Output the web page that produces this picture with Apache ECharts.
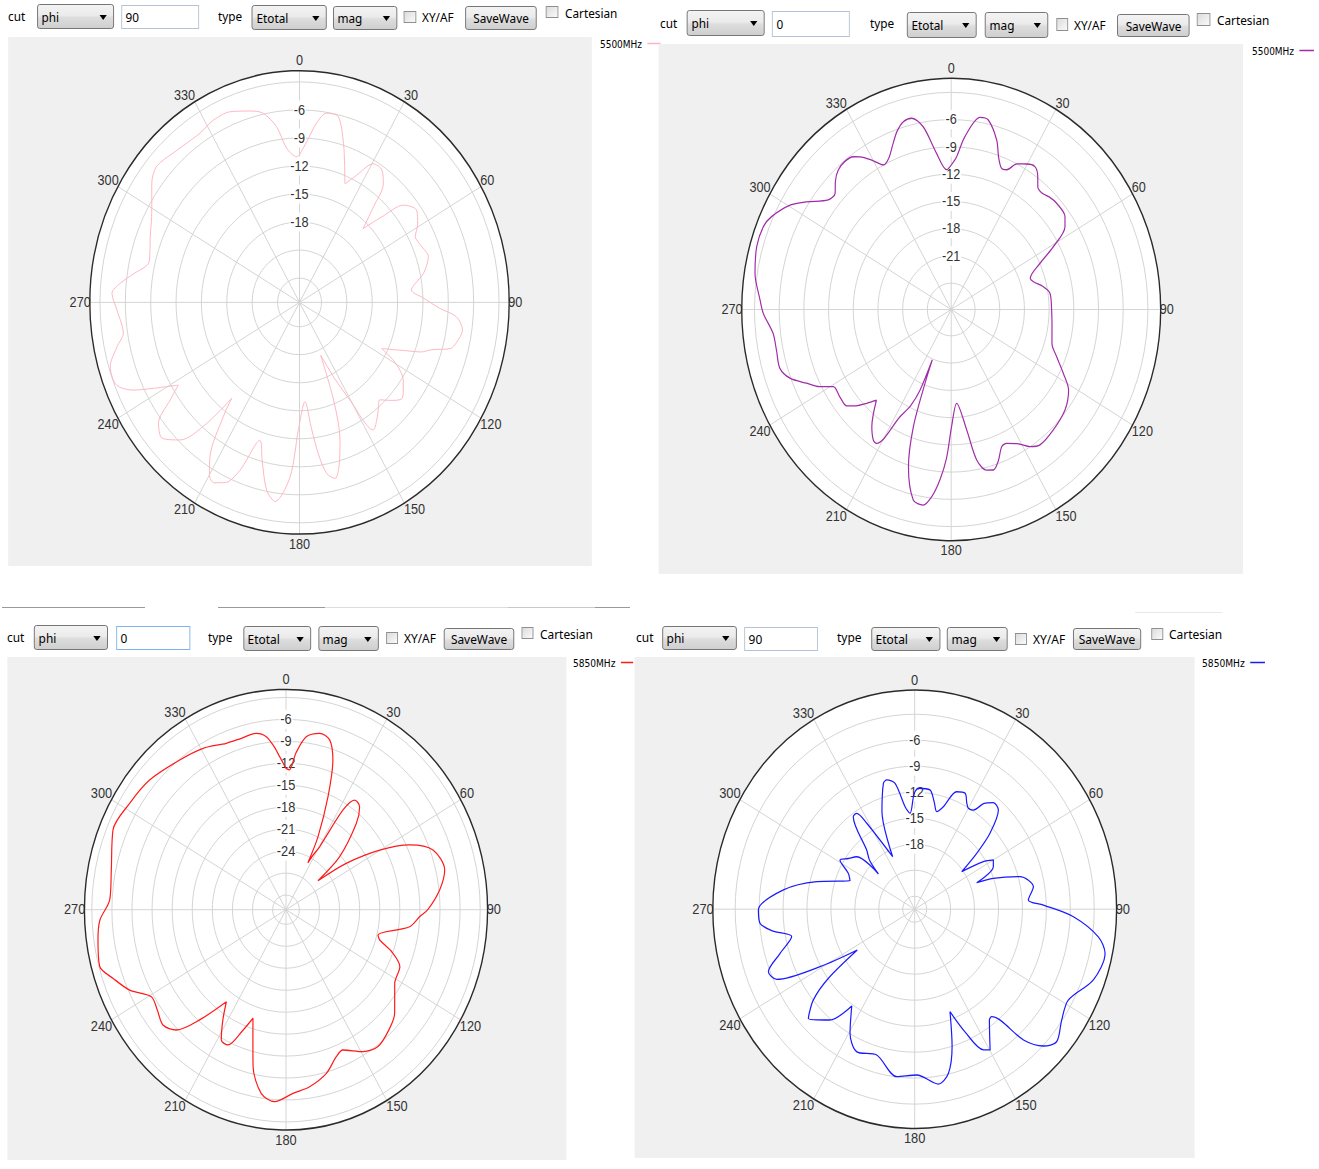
<!DOCTYPE html>
<html><head><meta charset="utf-8">
<script src="https://cdn.jsdelivr.net/npm/echarts@6/dist/echarts.min.js"></script>
<style>
html,body{margin:0;padding:0;background:#fff;width:1319px;height:1169px;overflow:hidden;font-family:'Noto Sans','DejaVu Sans',sans-serif;}
.panel{position:absolute;transform-origin:0 0;}
.gray{position:absolute;background:#f0f0f0;}
.chart{position:absolute;left:0;top:0;}
.lbl{position:absolute;font-size:13px;color:#000;line-height:16px;height:16px;white-space:nowrap;}
.sel,.btn{position:absolute;box-sizing:border-box;border:1px solid #707070;border-radius:3px;background:linear-gradient(#f3f3f3,#ebebeb 45%,#dddddd 55%,#cfcfcf);font-size:13px;color:#000;white-space:nowrap;}
.sel span{position:absolute;left:4px;top:50%;transform:translateY(-52%);line-height:16px;}
.sel i{position:absolute;right:7px;top:50%;margin-top:-2px;width:0;height:0;border-left:4px solid transparent;border-right:4px solid transparent;border-top:5px solid #000;}
.btn span{position:absolute;left:0;right:0;text-align:center;top:50%;transform:translateY(-50%);line-height:16px;}
.inp{position:absolute;box-sizing:border-box;border:1px solid #b5c2d3;background:#fff;font-size:13px;color:#000;}
.inp span{position:absolute;left:4px;top:50%;transform:translateY(-50%);line-height:16px;}
.cb{position:absolute;box-sizing:border-box;border:1px solid #8e8f8f;background:linear-gradient(135deg,#dcdcdc,#fafafa);}
.sep{position:absolute;height:1px;}
</style></head>
<body>
<div class="sep" style="left:2px;top:607px;width:143px;background:#9a9a9a"></div>
<div class="sep" style="left:218px;top:607px;width:107px;background:#9a9a9a"></div>
<div class="sep" style="left:325px;top:607px;width:183px;background:#dcdcdc"></div>
<div class="sep" style="left:508px;top:607px;width:87px;background:#c8c8c8"></div>
<div class="sep" style="left:595px;top:607px;width:35px;background:#9a9a9a"></div>
<div class="sep" style="left:1135px;top:612px;width:87px;background:#e8e8e8"></div>
<script>
// ---------------- DATA ----------------
const angleTickValues = [0,30,60,90,120,150,180,210,240,270,300,330];
const ctlCut = 'cut', ctlCutField = 'phi', ctlType = 'type', ctlEtotal = 'Etotal', ctlMag = 'mag';
const ctlXY = 'XY/AF', ctlSave = 'SaveWave', ctlCart = 'Cartesian';
const cutValues = ['90', '0', '0', '90'];
const seriesNames = ['5500MHz', '5500MHz', '5850MHz', '5850MHz'];

const p1Rings = [-24,-21,-18,-15,-12,-9,-6,-3];
const p1Labels = [-18,-15,-12,-9,-6];
const p1Angles = [0,3,6,9,13,17,20,23,26.4,30.4,34.5,38,40.5,43.6,47,49.7,54.5,59,62.8,67,72.2,78,84.3,88,92.2,94.7,98.7,102,105.5,108,110.3,112.2,115.2,116.9,119,121.4,124,127.4,130.4,134,137.7,141,144,147.4,150.3,153,156.1,159,162,165,167.4,170,172,174,176.5,180.6,183.4,187.7,190.9,194.5,197.6,201.4,204.5,207.7,210,212.7,216.4,218,220.3,223.8,228.2,232.2,235.7,238.3,242,244.5,247.9,253,257.6,261,267.8,272.5,275.5,279,283.1,287,291.7,297.7,302,306,310.7,318.3,327,332.4,338,344.1,348,351.8,354.7,358.8,360];
const p1Values = [-10.8,-9.3,-7.3,-6.1,-6.2,-8.8,-11.0,-12.8,-11.4,-9.4,-9.4,-10.5,-13.1,-15.7,-13.0,-10.5,-9.6,-10.3,-11.2,-11.0,-10.6,-11.6,-13.3,-12.0,-10.0,-8.0,-7.1,-7.4,-8.1,-10.2,-11.3,-12.9,-14.8,-15.7,-14.0,-12.7,-11.8,-11.15,-10.7,-11.5,-12.5,-11.8,-11.05,-10.4,-14.6,-17.5,-20.4,-15.2,-11.1,-8.5,-7.3,-8.0,-10.0,-13.0,-15.95,-12.9,-7.9,-5.1,-6.1,-9.0,-11.1,-7.3,-5.4,-4.8,-5.3,-7.0,-11.4,-13.6,-9.6,-6.2,-4.8,-5.5,-8.1,-9.75,-7.0,-4.8,-3.2,-3.2,-4.5,-5.5,-5.0,-4.4,-5.3,-6.8,-8.25,-8.1,-7.6,-6.85,-6.0,-5.0,-4.3,-4.8,-5.0,-4.6,-4.6,-5.3,-5.9,-7.6,-10.0,-11.0,-10.8];

const p2Rings = [-24,-21,-18,-15,-12,-9,-6,-3];
const p2Labels = [-21,-18,-15,-12,-9,-6];
const p2Angles = [0,2.2,5,9.4,12.2,16.5,19,21.5,23.7,26.5,29.8,32.9,35.5,38,40.7,44,47.6,53.5,56.6,60.9,64.8,70.3,73,77,81.5,90.3,99,107,112.1,117.3,121.9,128.7,136.9,144.1,147.6,151,155.4,157.9,161,163.8,166.3,169.4,171.9,176.3,179.8,182,184.2,186.5,189,192.4,196.7,199.6,201.4,202.5,203.1,205,207.8,211.6,213.4,216.8,222.3,224.8,227.5,230.1,234.6,239.3,242,245.2,248.9,252.7,258,263.1,268.9,272.6,279.5,286.3,291.8,295.1,300.4,304,308.9,312.2,315,318.2,321.5,324.7,326.6,330,332.6,335.5,338.9,341.5,344.3,347.2,350.4,354.1,357.9,360];
const p2Values = [-11.0,-10.1,-7.8,-5.46,-5.56,-7.44,-9.2,-10.2,-10.1,-9.0,-8.44,-8.17,-8.8,-9.8,-10.0,-9.7,-9.55,-9.7,-10.34,-12.7,-15.0,-16.7,-16.45,-15.5,-14.77,-14.7,-14.5,-14.1,-13.07,-11.56,-10.1,-9.19,-8.74,-8.5,-9.02,-10.0,-10.7,-10.6,-9.3,-8.5,-8.7,-10.05,-13.5,-16.55,-14.0,-10.5,-8.08,-6.2,-5.1,-5.43,-8.83,-13.2,-18.17,-20.9,-17.27,-15.2,-13.56,-9.6,-9.7,-10.8,-13.4,-12.35,-11.2,-10.35,-10.3,-10.25,-8.8,-7.55,-5.9,-5.1,-5.2,-5.1,-4.07,-3.65,-2.73,-2.28,-2.32,-2.8,-4.2,-5.7,-7.7,-7.86,-7.0,-6.31,-6.1,-6.3,-6.77,-8.0,-8.98,-8.6,-7.3,-6.2,-5.42,-5.31,-6.5,-9.62,-11.5,-11.0];

const p3Rings = [-30,-27,-24,-21,-18,-15,-12,-9,-6,-3];
const p3Labels = [-24,-21,-18,-15,-12,-9,-6];
const p3Angles = [0,1.5,4,7.3,11.8,15.7,18.9,22.1,25.6,27,28.5,30.3,32,34.4,38,41.7,47.9,50.3,54.8,59.8,64.4,69.6,77.1,83.3,89.9,92.7,97.2,104.1,106.5,110,114.6,121.8,131.1,137,143.7,149.3,156.1,159.5,164.9,171.7,177.6,183.7,188.4,192.9,195.5,198.4,201.5,205.1,208.5,212,215.3,220.6,224.9,229.4,234.5,239.4,244.8,250,254.4,261.6,267.1,272.9,281.7,292.9,301.9,311,322.2,330.7,338.6,344.1,349.6,352.9,355.5,357.4,360];
const p3Values = [-12.7,-12.9,-10.5,-8.17,-7.38,-7.9,-10.39,-15.33,-20.93,-24.8,-23.5,-22.0,-15.93,-13.84,-14.14,-16.2,-21.2,-25.8,-21.0,-15.8,-11.5,-8.58,-7.69,-8.9,-10.8,-12.0,-13.4,-17.83,-17.4,-15.2,-13.3,-12.9,-10.47,-9.5,-8.8,-9.44,-11.03,-10.56,-8.84,-7.56,-6.89,-5.71,-6.64,-9.99,-13.5,-16.37,-14.2,-11.59,-11.75,-14.2,-16.59,-12.16,-8.8,-7.8,-8.4,-8.64,-6.2,-4.54,-3.12,-3.62,-4.18,-5.64,-5.36,-3.96,-4.5,-5.0,-6.11,-6.71,-7.58,-7.65,-7.5,-8.18,-9.7,-11.07,-12.7];

const p4Rings = [-24,-21,-18,-15,-12,-9,-6,-3];
const p4Labels = [-18,-15,-12,-9,-6];
const p4Angles = [0,1.9,7.9,11,13.8,16.9,21.2,25.3,28,30,32.7,35.5,38.7,42.5,47.1,50.3,53.7,57.5,60,63.5,68.5,70.1,74.1,80.1,85.7,88.3,92.5,97.9,102.1,110,118.6,124.8,130.7,134.4,137.9,142.1,143.8,149.8,152,156,159.5,163.5,167.4,171.6,179.2,186.6,195.8,203.9,209.5,215.2,219.7,226.6,230.5,233.6,236.8,240.8,244.9,248.5,253,258.4,262,265.2,269.7,277.7,284.5,292.1,296.5,301.2,305,309.8,311.8,315,318.6,324.2,326.7,328.8,335.5,340,344.9,346.8,350.4,354.2,357,359.3,360];
const p4Values = [-12.0,-11.53,-11.6,-12.8,-13.91,-13.14,-10.96,-10.7,-11.6,-12.05,-11.9,-10.5,-9.74,-9.98,-12.62,-15.4,-18.19,-15.3,-14.12,-14.49,-17.15,-15.02,-11.78,-10.4,-11.22,-9.36,-5.59,-2.27,-1.1,-1.67,-3.58,-3.07,-2.04,-2.93,-5.16,-9.78,-9.65,-6.71,-7.11,-10.0,-12.87,-9.0,-6.1,-5.1,-6.36,-6.04,-8.01,-7.52,-9.04,-11.82,-8.88,-7.16,-9.04,-12.07,-16.9,-11.9,-6.41,-5.79,-7.8,-9.76,-7.5,-6.05,-5.91,-8.9,-12.82,-16.75,-16.2,-14.55,-15.3,-16.04,-19.4,-17.5,-16.4,-12.34,-12.26,-13.9,-18.84,-13.5,-10.45,-10.18,-10.76,-13.61,-14.42,-12.5,-12.0];

// ---------------- LAYOUT ----------------
const panels = [
  {L:0, T:0, s:0.905, W:730, H:575, gray:[8,37,592,566], center:[299.5,302.4], R:231.7, min:-26.6, max:-1.8,
   legend:[600,38], color:'#ffb3c0', lw:1, angles:p1Angles, values:p1Values, rings:p1Rings, labels:p1Labels,
   ctl:{cut:[8,16], sel:[37,4,77,25], inp:[121,5,78,24], type:[218,16], selE:[252,5,75,25], selM:[333,6,64,24], cb1:[404,11,12,12], xy:[422,17], btn:[465,6,72,24], cb2:[546,6,12,12], cart:[565,13]}},
  {L:655, T:0, s:0.906, W:728, H:580, gray:[659,44,1243,574], center:[951.2,309.5], R:231.2, min:-26.9, max:-1.45,
   legend:[1252,45], color:'#a02ca8', lw:1.3, angles:p2Angles, values:p2Values, rings:p2Rings, labels:p2Labels,
   ctl:{cut:[660,23], sel:[687,10,78,26], inp:[772,11,78,26], type:[870,23], selE:[907,12,70,26], selM:[985,12,63,26], cb1:[1056,18,12,13], xy:[1074,25], btn:[1117,14,73,23], cb2:[1197,13,13,13], cart:[1217,20]}},
  {L:0, T:612, s:0.915, W:692, H:557, gray:[7,657,566,1160], center:[286,909.7], R:220.3, min:-32, max:-1.9,
   legend:[573,657], color:'#ff1a1a', lw:1.3, angles:p3Angles, values:p3Values, rings:p3Rings, labels:p3Labels,
   ctl:{cut:[7,637], sel:[34,625,74,25], inp:[116,626,74,24], type:[208,637], selE:[243,626,68,25], selM:[318,626,61,25], cb1:[386,632,12,12], xy:[404,638], btn:[444,628,70,22], cb2:[522,627,11,12], cart:[540,634]}, focus:true},
  {L:630, T:612, s:0.921, W:690, H:557, gray:[635,657,1195,1158], center:[914.7,909.2], R:219.2, min:-25.5, max:-0.2,
   legend:[1202,657], color:'#1a1aff', lw:1.3, angles:p4Angles, values:p4Values, rings:p4Rings, labels:p4Labels,
   ctl:{cut:[636,637], sel:[662,626,75,24], inp:[744,627,74,24], type:[837,637], selE:[871,627,69,24], selM:[947,627,61,24], cb1:[1015,633,12,12], xy:[1033,639], btn:[1073,628,68,22], cb2:[1151,628,12,12], cart:[1169,634]}}
];

function el(parent, cls, p, xr, yr, wr, hr) {
  const d = document.createElement('div');
  d.className = cls;
  d.style.left = ((xr - p.L) / p.s) + 'px';
  d.style.top = (yr - p.T) + 'px';
  if (wr != null) d.style.width = (wr / p.s) + 'px';
  if (hr != null) d.style.height = hr + 'px';
  parent.appendChild(d);
  return d;
}
function label(parent, p, pos, text) {
  const d = el(parent, 'lbl', p, pos[0], pos[1] - 8);
  d.textContent = text;
}
function select(parent, p, r, text) {
  const d = el(parent, 'sel', p, r[0], r[1], r[2], r[3]);
  const sp = document.createElement('span'); sp.textContent = text; d.appendChild(sp);
  d.appendChild(document.createElement('i'));
}
function angleLabel(v) {
  if (angleTickValues.indexOf(v) < 0) return '';
  if (v === 0) return '{t|' + v + '}';
  if (v === 180) return '{b|' + v + '}';
  return '{n|' + v + '}';
}

panels.forEach((p, idx) => {
  const pd = document.createElement('div');
  pd.className = 'panel';
  pd.style.left = p.L + 'px'; pd.style.top = p.T + 'px';
  pd.style.width = p.W + 'px'; pd.style.height = p.H + 'px';
  pd.style.transform = 'scaleX(' + p.s + ')';
  document.body.appendChild(pd);

  el(pd, 'gray', p, p.gray[0], p.gray[1], p.gray[2] - p.gray[0], p.gray[3] - p.gray[1]);

  const c = p.ctl;
  label(pd, p, c.cut, ctlCut);
  select(pd, p, c.sel, ctlCutField);
  const inp = el(pd, 'inp', p, c.inp[0], c.inp[1], c.inp[2], c.inp[3]);
  if (p.focus) inp.style.borderColor = '#7eb4ea';
  const isp = document.createElement('span'); isp.textContent = cutValues[idx]; inp.appendChild(isp);
  label(pd, p, c.type, ctlType);
  select(pd, p, c.selE, ctlEtotal);
  select(pd, p, c.selM, ctlMag);
  el(pd, 'cb', p, c.cb1[0], c.cb1[1], c.cb1[2], c.cb1[3]);
  label(pd, p, c.xy, ctlXY);
  const b = el(pd, 'btn', p, c.btn[0], c.btn[1], c.btn[2], c.btn[3]);
  const bsp = document.createElement('span'); bsp.textContent = ctlSave; b.appendChild(bsp);
  el(pd, 'cb', p, c.cb2[0], c.cb2[1], c.cb2[2], c.cb2[3]);
  label(pd, p, c.cart, ctlCart);

  const cd = document.createElement('div');
  cd.className = 'chart';
  cd.style.width = p.W + 'px'; cd.style.height = p.H + 'px';
  pd.appendChild(cd);
  const chart = echarts.init(cd, null, {renderer: 'svg'});
  const name = seriesNames[idx];
  const data = p.angles.map((a, i) => [p.values[i], a]);
  const cx = (p.center[0] - p.L) / p.s, cy = p.center[1] - p.T;
  const lab = {fontSize: 14, color: '#333', fontFamily: "'Liberation Sans', Arial, sans-serif"};
  chart.setOption({
    animation: false,
    backgroundColor: 'transparent',
    textStyle: {fontFamily: "'Liberation Sans', Arial, sans-serif"},
    graphic: [{type: 'circle', silent: true, z: -10, shape: {cx: cx, cy: cy, r: p.R}, style: {fill: '#ffffff'}}],
    legend: {
      data: [name], left: (p.legend[0] - p.L) / p.s, top: p.legend[1] - p.T,
      align: 'right', icon: 'rect', itemWidth: 16, itemHeight: 1.5, itemGap: 0, padding: 0,
      selectedMode: false,
      textStyle: {fontSize: 11, color: '#000', fontFamily: "'DejaVu Sans Condensed','DejaVu Sans',sans-serif", padding: [0, 1, 0, 0]}
    },
    polar: {center: [cx, cy], radius: p.R},
    angleAxis: {
      type: 'value', min: 0, max: 360, interval: 30, startAngle: 90, clockwise: true, z: 1,
      axisLine: {lineStyle: {color: '#2a2a2a', width: 1.5}},
      axisTick: {show: false},
      axisLabel: {margin: -1, fontSize: 14, color: '#333', formatter: angleLabel,
        rich: {
          t: Object.assign({padding: [0, 0, 4, 0]}, lab),
          b: Object.assign({padding: [4, 0, 0, 0]}, lab),
          n: Object.assign({}, lab)
        }},
      splitLine: {show: true, lineStyle: {color: '#d2d2d2', width: 1}},
      splitArea: {show: false}
    },
    radiusAxis: {
      type: 'value', min: p.min, max: p.max, z: 1,
      axisLine: {show: false},
      axisTick: {show: false, customValues: p.rings},
      axisLabel: {customValues: p.labels, margin: 0, align: 'center', verticalAlign: 'middle',
        fontSize: 14, color: '#333', backgroundColor: '#fff', padding: [0, 1, 5, 1],
        formatter: v => String(v)},
      splitLine: {show: true, lineStyle: {color: '#d2d2d2', width: 1}},
      splitArea: {show: false}
    },
    series: [{
      name: name, type: 'line', coordinateSystem: 'polar', data: data, z: 3,
      showSymbol: false, smooth: 0.3, clip: false,
      lineStyle: {color: p.color, width: p.lw}, itemStyle: {color: p.color}
    }]
  });
});
</script>
</body></html>
